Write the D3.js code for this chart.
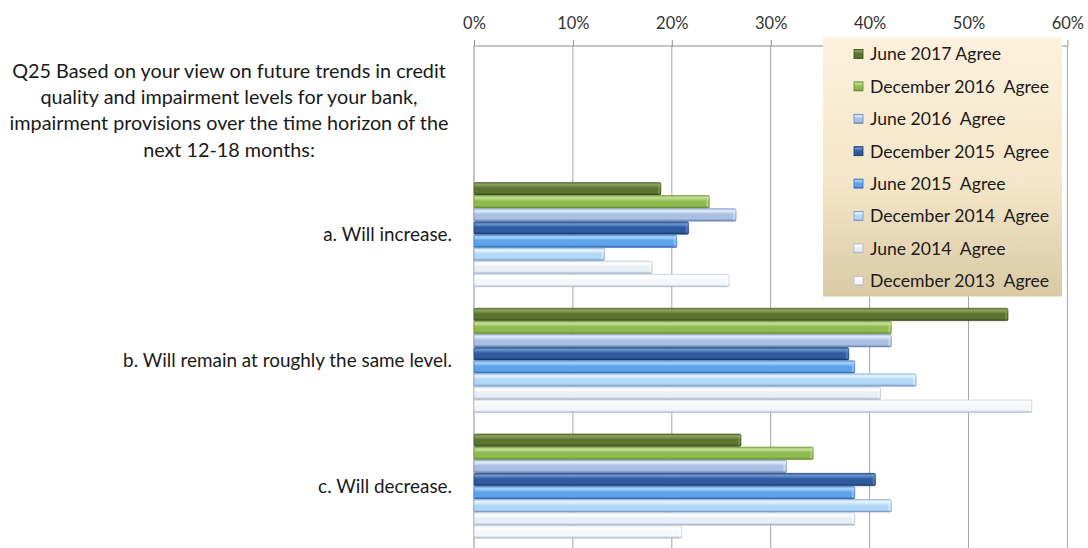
<!DOCTYPE html>
<html><head><meta charset="utf-8">
<script src="https://cdn.jsdelivr.net/npm/d3@7"></script>
<style>
html,body{margin:0;padding:0;background:#fff;}
svg{display:block;}
text{font-family:Lato,"Open Sans",sans-serif;}
</style></head>
<body><svg id="chart" width="1088" height="548"></svg>
<script>
const categories = [
  "Q25 Based on your view on future trends in credit|quality and impairment levels for your bank,|impairment provisions over the time horizon of the|next 12-18 months:",
  "a. Will increase.",
  "b. Will remain at roughly the same level.",
  "c. Will decrease."
];
const seriesNames = [
  "June 2017 Agree",
  "December 2016  Agree",
  "June 2016  Agree",
  "December 2015  Agree",
  "June 2015  Agree",
  "December 2014  Agree",
  "June 2014  Agree",
  "December 2013  Agree"
];
// values per category (first category = question text, no bars)
const june2017 = [null, 0.189, 0.540, 0.270];
const dec2016  = [null, 0.238, 0.422, 0.343];
const june2016 = [null, 0.265, 0.422, 0.316];
const dec2015  = [null, 0.217, 0.379, 0.406];
const june2015 = [null, 0.205, 0.385, 0.385];
const dec2014  = [null, 0.132, 0.447, 0.422];
const june2014 = [null, 0.180, 0.411, 0.385];
const dec2013  = [null, 0.258, 0.564, 0.210];
const seriesValues = [june2017, dec2016, june2016, dec2015, june2015, dec2014, june2014, dec2013];
const tickValues = [0, 0.1, 0.2, 0.3, 0.4, 0.5, 0.6];

// colour stops per series: [top highlight, mid, bottom]
const palette = [
  ["#8aa560", "#5b7431", "#3b4f1d"],
  ["#c6e09a", "#8fba4f", "#63862c"],
  ["#e2eefb", "#a9c0e2", "#6b84b3"],
  ["#6b95d2", "#2f5c9f", "#173766"],
  ["#acd6fb", "#5ea3ea", "#3468b2"],
  ["#eaf6ff", "#b2d8f7", "#7897c6"],
  ["#ffffff", "#e8eef7", "#a6b2c6"],
  ["#ffffff", "#f4f7fb", "#b3bbc8"]
];

const svg = d3.select("#chart");
const pLeft = 474, pRight = 1067.4, pTop = 46, pBottom = 549;

const x = d3.scaleLinear().domain([0, 0.6]).range([pLeft, pRight]);
const y = d3.scaleBand().domain(categories).range([pTop, pBottom])
  .paddingInner(0.165).paddingOuter(0.0825);
const ySub = d3.scaleBand().domain(seriesNames).range([0, y.bandwidth()]).padding(0);

const defs = svg.append("defs");
palette.forEach((c, i) => {
  const g = defs.append("linearGradient").attr("id", "g" + i)
    .attr("x1", 0).attr("y1", 0).attr("x2", 0).attr("y2", 1);
  g.append("stop").attr("offset", "0%").attr("stop-color", c[1]);
  g.append("stop").attr("offset", "18%").attr("stop-color", c[0]);
  g.append("stop").attr("offset", "45%").attr("stop-color", c[1]);
  g.append("stop").attr("offset", "80%").attr("stop-color", c[1]);
  g.append("stop").attr("offset", "100%").attr("stop-color", c[2]);
});
const lg = defs.append("linearGradient").attr("id", "legbg")
  .attr("x1", 0).attr("y1", 0).attr("x2", 0).attr("y2", 1);
lg.append("stop").attr("offset", "0%").attr("stop-color", "#fdf1dd");
lg.append("stop").attr("offset", "55%").attr("stop-color", "#f4e6c9");
lg.append("stop").attr("offset", "100%").attr("stop-color", "#d9caa4");

// gridlines
svg.append("g").selectAll("line").data(tickValues.slice(1)).join("line")
  .attr("x1", d => x(d)).attr("x2", d => x(d))
  .attr("y1", pTop).attr("y2", pBottom)
  .attr("stroke", "#a6a6a6").attr("stroke-width", 1);

// top axis
const ax = svg.append("g").attr("transform", `translate(0,${pTop})`)
  .call(d3.axisTop(x).tickValues(tickValues).tickFormat(d3.format(".0%")).tickSize(6).tickPadding(11));
ax.select(".domain").attr("stroke", "#8c8c8c").attr("d", `M${pLeft},0H${pRight}`);
ax.selectAll(".tick line").attr("stroke", "#8c8c8c");
ax.selectAll(".tick text").attr("fill", "#333").style("font-size", "16.5px")
  .style("font-family", "Lato,'Open Sans',sans-serif");

// left axis line
svg.append("line").attr("x1", pLeft).attr("x2", pLeft).attr("y1", pTop).attr("y2", pBottom)
  .attr("stroke", "#8c8c8c");

// bars
const groups = svg.append("g").selectAll("g").data(categories).join("g")
  .attr("transform", d => `translate(0,${y(d)})`);
groups.each(function(cat, ci) {
  const g = d3.select(this);
  seriesNames.forEach((s, si) => {
    const v = seriesValues[si][ci];
    if (v == null) return;
    const h = ySub.bandwidth();
    g.append("rect")
      .attr("x", x(0)).attr("y", ySub(s) + 0.3)
      .attr("width", x(v) - x(0)).attr("height", h - 0.6)
      .attr("rx", 1.5)
      .attr("fill", `url(#g${si})`)
      .attr("stroke", palette[si][2]).attr("stroke-width", 0.8).attr("stroke-opacity", 0.7);
    g.append("rect")
      .attr("x", x(v) - 3).attr("y", ySub(s) + 1.5)
      .attr("width", 2).attr("height", h - 3)
      .attr("fill", palette[si][0]).attr("opacity", 0.55);
  });
});

// category labels
const labels = svg.append("g");
categories.forEach(cat => {
  const lines = cat.split("|");
  const multi = lines.length > 1;
  const cy = y(cat) + y.bandwidth() / 2 + (multi ? 1.5 : 0);
  const lh = 26.3;
  const t = labels.append("text")
    .attr("fill", "#1a1a1a").style("font-size", multi ? "19.8px" : "18.9px")
    .attr("text-anchor", multi ? "middle" : "end");
  const tx = multi ? 229 : 452;
  lines.forEach((ln, i) => {
    t.append("tspan").attr("x", tx)
      .attr("y", cy + (i - (lines.length - 1) / 2) * lh)
      .attr("dy", "0.35em").text(ln);
  });
});

// legend
const L = {x: 823, y: 37.5, w: 239, h: 259};
const leg = svg.append("g");
leg.append("rect").attr("x", L.x).attr("y", L.y).attr("width", L.w).attr("height", L.h)
  .attr("fill", "url(#legbg)");
const step = 32.4;
seriesNames.forEach((s, i) => {
  const cy = 54 + i * step;
  leg.append("rect").attr("x", 854).attr("y", cy - 4.5).attr("width", 9).attr("height", 9)
    .attr("fill", `url(#g${i})`).attr("stroke", palette[i][2]).attr("stroke-width", 0.8);
  leg.append("text").attr("x", 870).attr("y", cy).attr("dy", "0.36em")
    .attr("fill", "#1a1a1a").style("font-size", "17.6px").style("white-space", "pre")
    .text(s);
});
</script></body></html>
